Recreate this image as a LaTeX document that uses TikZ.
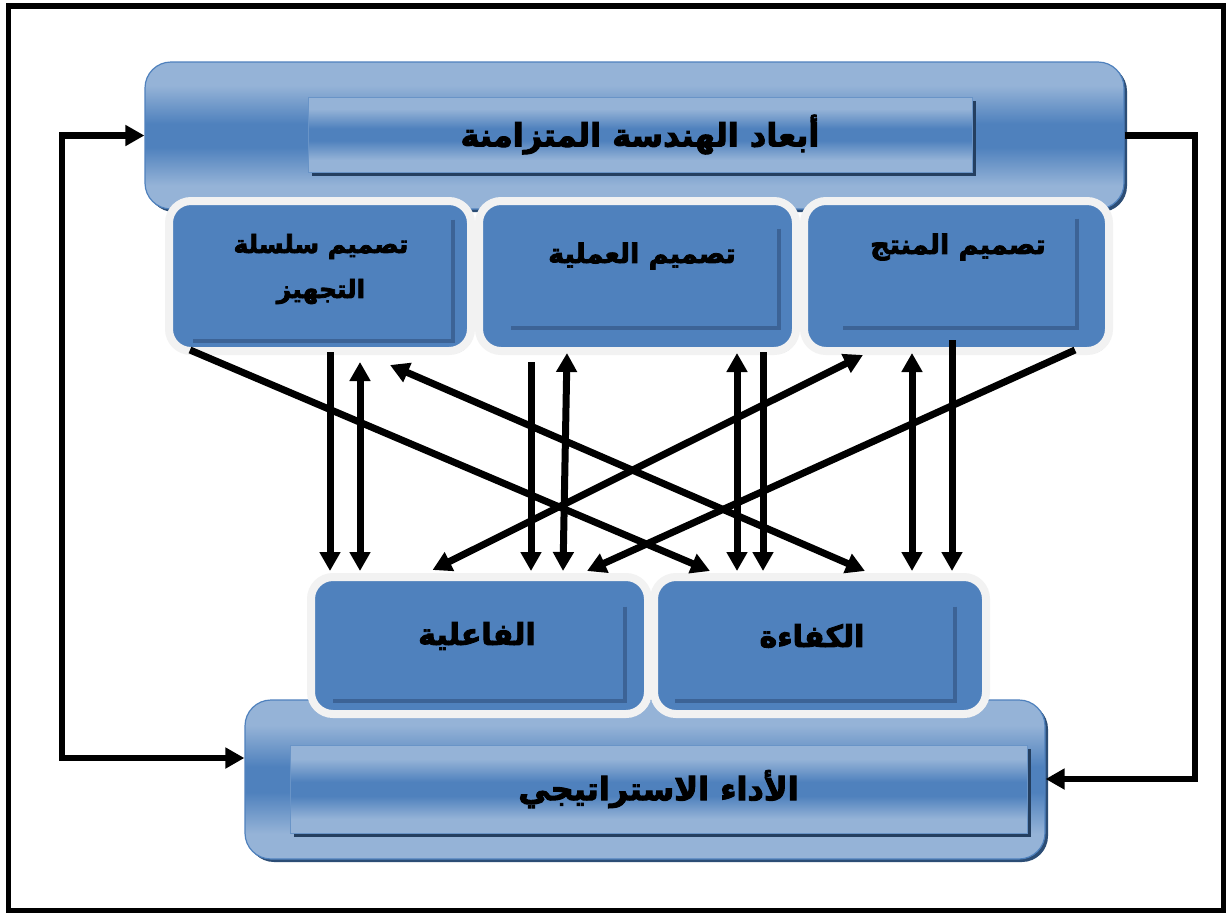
\documentclass[tikz,border=0pt]{standalone}
\usepackage{fontspec}
\usetikzlibrary{arrows.meta,calc,shadows}
\newfontfamily\arabicfont[Script=Arabic,BoldFeatures={FakeBold=3}]{DejaVu Sans}
\TeXXeTstate=1
\definecolor{lb}{HTML}{95B3D7}
\definecolor{mb}{HTML}{4F81BD}
\definecolor{frameb}{HTML}{4F81BD}
\definecolor{shadowc}{HTML}{2C4D75}
\definecolor{innershadow}{HTML}{243F60}
\definecolor{wborder}{HTML}{F2F2F2}
\definecolor{decoc}{HTML}{3C6396}
\definecolor{grayshadow}{HTML}{9AA3AE}
\pgfdeclareverticalshading{glossy}{100bp}{color(0bp)=(lb); color(25bp)=(lb); color(33bp)=(lb); color(46bp)=(mb); color(54bp)=(mb); color(67bp)=(lb); color(75bp)=(lb); color(100bp)=(lb)}
\begin{document}
\begin{tikzpicture}[x=1pt,y=-1pt,
  bigbox/.style={draw=frameb, line width=1.2pt, rounded corners=26pt, shade, shading=glossy,
    drop shadow={shadow xshift=3pt, shadow yshift=-3pt, fill=shadowc, opacity=1}},
  innerbox/.style={draw=frameb!85!white, line width=1pt, shade, shading=glossy,
    drop shadow={shadow xshift=4pt, shadow yshift=-4pt, fill=innershadow, opacity=1},
    font=\arabicfont\bfseries\fontsize{32}{36}\selectfont},
  smallbox/.style={draw=wborder, line width=8pt, fill=mb, rounded corners=22pt,
    drop shadow={shadow xshift=2pt, shadow yshift=-3pt, fill=grayshadow, opacity=1}},
  deco/.style={draw=decoc, line width=4pt},
  lbl/.style={font=\arabicfont\bfseries\fontsize{27}{45}\selectfont, align=center},
  lblb/.style={font=\arabicfont\bfseries\fontsize{30}{36}\selectfont},
  con/.style={line width=7pt, draw=black},
  tip/.style={-{Triangle[length=19pt,width=20pt]}},
  dtip/.style={{Triangle[length=19pt,width=20pt]}-{Triangle[length=19pt,width=20pt]}},
  fb/.style={line width=6.5pt, draw=black}
]
\useasboundingbox (0,0) rectangle (1229,914);
\fill[white] (0,0) rectangle (1229,914);
\draw[line width=5.5pt] (8.5,6) rectangle (1223.5,910.5);

% big boxes
\node[bigbox, minimum width=979pt, minimum height=147pt] (top) at (634.5,135.5) {};
\node[innerbox, minimum width=664pt, minimum height=75pt] (topin) at (640,134.5) {\beginR أبعاد الهندسة المتزامنة\endR};
\node[bigbox, minimum width=800pt, minimum height=159pt] (bot) at (645,779.5) {};
\node[innerbox, minimum width=737pt, minimum height=88pt] (botin) at (658.5,789) {\beginR الأداء الاستراتيجي\endR};

% middle row
\node[smallbox, minimum width=302pt, minimum height=150pt] (m1) at (320,276) {};
\node[smallbox, minimum width=317pt, minimum height=150pt] (m2) at (637.5,276) {};
\node[smallbox, minimum width=305pt, minimum height=150pt] (m3) at (956.5,276) {};
\draw[deco] ($(m1.north east)+(-22.5,22.5)$) |- ($(m1.south west)+(27.5,-14.5)$);
\draw[deco] ($(m2.north east)+(-21.5,31.5)$) |- ($(m2.south west)+(35.5,-27.5)$);
\draw[deco] ($(m3.north east)+(-36.5,21.5)$) |- ($(m3.south west)+(42.5,-27.5)$);
\node[lbl, font=\arabicfont\bfseries\fontsize{25}{45}\selectfont] (m1t) at (321,269) {\beginR تصميم سلسلة\endR\\\beginR التجهيز\endR};
\node[lbl] (m2t) at (642,256) {\beginR تصميم العملية\endR};
\node[lbl] (m3t) at (958,247) {\beginR تصميم المنتج\endR};

% bottom row
\node[smallbox, minimum width=337pt, minimum height=137pt] (b1) at (479.5,645.5) {};
\node[smallbox, minimum width=332pt, minimum height=137pt] (b2) at (820,645.5) {};
\draw[deco] ($(b1.north east)+(-27.5,33.5)$) |- ($(b1.south west)+(25.5,-17.5)$);
\draw[deco] ($(b2.north east)+(-35.5,33.5)$) |- ($(b2.south west)+(24.5,-17.5)$);
\node[lblb] (b1t) at (477,636) {\beginR الفاعلية\endR};
\node[lblb] (b2t) at (812,636) {\beginR الكفاءة\endR};

% connectors between rows
\draw[con,tip]  ($(m1.south)+(-130,-5)$) -- ($(b2.north)+(-110,-2)$);
\draw[con,tip]  ($(m1.south)+(10,-3)$) -- ($(b1.north)+(-149.5,-2)$);
\draw[con,dtip] ($(m1.south)+(40,7)$) -- ($(b1.north)+(-119.5,-2)$);
\draw[con,dtip] ($(m1.south)+(70,10)$) -- ($(b2.north)+(45,-2)$);
\draw[con,tip]  ($(m2.south)+(-106.5,7)$) -- ($(b1.north)+(51.5,-2)$);
\draw[con,dtip] ($(m2.south)+(-70.5,-2)$) -- ($(b1.north)+(83.5,-2)$);
\draw[con,dtip] ($(b1.north)+(-47,-3)$) -- ($(m3.south)+(-93.5,0)$);
\draw[con,dtip] ($(m2.south)+(99.5,-2)$) -- ($(b2.north)+(-83,-2)$);
\draw[con,tip]  ($(m2.south)+(125.5,-3)$) -- ($(b2.north)+(-57,-2)$);
\draw[con,tip]  ($(m3.south)+(118.5,-5)$) -- ($(b1.north)+(107.5,-2)$);
\draw[con,dtip] ($(m3.south)+(-44.5,-2)$) -- ($(b2.north)+(92,-2)$);
\draw[con,tip]  ($(m3.south)+(-4.5,-15)$) -- ($(b2.north)+(132,-2)$);

% feedback loops
\coordinate (lc) at (62,758);
\coordinate (rc) at (1195,779);
\draw[fb,dtip] (top.west) -| (lc) |- ($(bot.west)+(0,-21.5)$);
\draw[fb,tip] (top.east) -| (rc) -- (bot.east |- rc);
\end{tikzpicture}
\end{document}
